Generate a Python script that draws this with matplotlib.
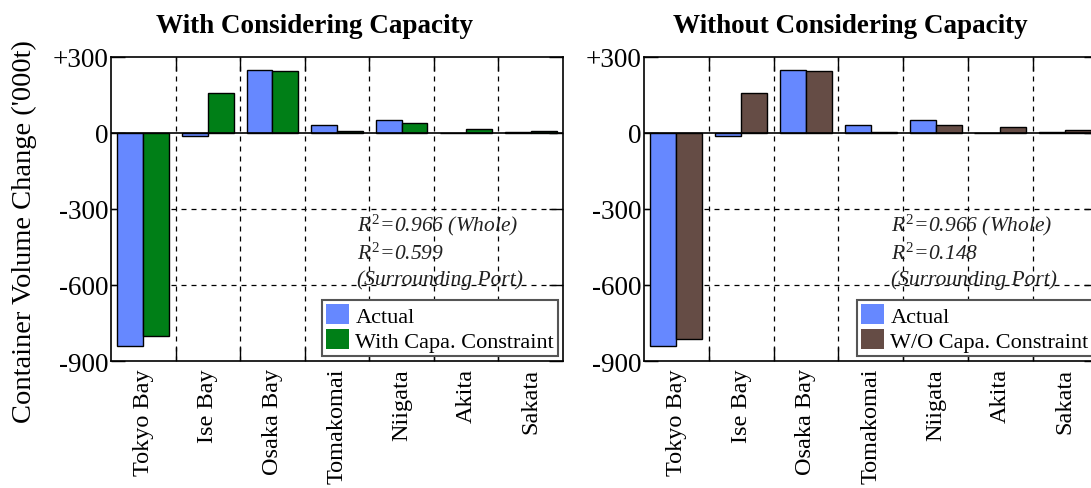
import matplotlib
matplotlib.use("Agg")
import matplotlib.pyplot as plt
import numpy as np

ports = ["Tokyo Bay", "Ise Bay", "Osaka Bay", "Tomakomai", "Niigata", "Akita", "Sakata"]
actual = [-840, -10, 247, 30, 50, 0, 3]
with_capa = [-800, 158, 243, 7, 38, 16, 7]
without_capa = [-815, 158, 243, 3, 30, 22, 12]
yticks = [300, 0, -300, -600, -900]
ytick_labels = ["+300", "0", "-300", "-600", "-900"]

plt.rcParams['font.family'] = ['Liberation Serif', 'DejaVu Serif']
plt.rcParams['mathtext.fontset'] = 'custom'
plt.rcParams['mathtext.it'] = 'Liberation Serif:italic'
plt.rcParams['mathtext.rm'] = 'Liberation Serif'

fig = plt.figure(figsize=(10.91, 4.89), dpi=100)
W, H = 1091, 489

def make_ax(left_px, width_px):
    return fig.add_axes([left_px / W, (H - 362) / H, width_px / W, (362 - 58) / H])

panels = [
    (make_ax(111, 452), with_capa, '#007F17', "With Capa. Constraint",
     "With Considering Capacity", 0.451, "0.599"),
    (make_ax(644, 453.6), without_capa, '#654C45', "W/O Capa. Constraint",
     "Without Considering Capacity", 0.455, "0.148"),
]

x = np.arange(len(ports))
bw = 0.4
for i, (ax, model, col, lab, title, tx, r2) in enumerate(panels):
    ax.bar(x - bw / 2, actual, bw, color='#6688FF', edgecolor='black', linewidth=1.0,
           label="Actual", zorder=3)
    ax.bar(x + bw / 2, model, bw, color=col, edgecolor='black', linewidth=1.0,
           label=lab, zorder=3)
    ax.axhline(0, color='black', linewidth=1.2, zorder=4)
    ax.set_xlim(-0.5, len(ports) - 0.5)
    ax.set_ylim(-900, 300)
    ax.set_yticks(yticks)
    ax.set_yticklabels(ytick_labels)
    for yv in [-300, -600]:
        ax.axhline(yv, color='black', linestyle=(0, (4, 4)), linewidth=0.9, zorder=1)
    for xv in np.arange(0.5, len(ports) - 0.5, 1.0):
        ax.axvline(xv, color='black', linestyle=(0, (4, 4)), linewidth=0.9, zorder=1)
    ax.set_xticks(np.arange(0.5, len(ports) - 0.5, 1.0))
    ax.set_xticklabels([])
    ax.set_xticks(x, minor=True)
    ax.set_xticklabels(ports, minor=True, rotation=90, fontsize=17.5)
    ax.tick_params(axis='x', which='minor', length=0, pad=5)
    ax.tick_params(axis='x', which='major', direction='in', length=10, top=True, width=1)
    ax.tick_params(axis='y', direction='in', length=10, right=True, labelsize=19.5, width=1, pad=2)
    for s in ax.spines.values():
        s.set_linewidth(1.2)
    ax.text(tx, 1.0 + 0.102, title, transform=ax.transAxes, ha='center', va='center',
            fontsize=19.5, fontweight='bold')
    ax.text(0.544, 0.451, r"$R^2$=0.966 (Whole)", transform=ax.transAxes, fontsize=15.5,
            style='italic', color='#222222', va='center', ha='left')
    ax.text(0.544, 0.356, r"$R^2$=" + r2, transform=ax.transAxes, fontsize=15.5,
            style='italic', color='#222222', va='center', ha='left')
    ax.text(0.544, 0.27, "(Surrounding Port)", transform=ax.transAxes, fontsize=15.5,
            style='italic', color='#222222', va='center', ha='left')
    leg = ax.legend(loc='lower right', bbox_to_anchor=(0.99, 0.016), fontsize=16,
                    frameon=True, fancybox=False, framealpha=1, edgecolor='#555555',
                    handlelength=1.0, handleheight=1.0, handletextpad=0.3,
                    borderpad=0.2, labelspacing=0.1, borderaxespad=0)
    leg.get_frame().set_linewidth(1.5)
    for h in leg.legend_handles:
        h.set_edgecolor('none')
    leg.set_zorder(5)

fig.text(24 / W, 1 - 232 / H, "Container Volume Change ('000t)", rotation=90,
         ha='center', va='center', fontsize=20.5)

fig.savefig("out.png", dpi=100)
